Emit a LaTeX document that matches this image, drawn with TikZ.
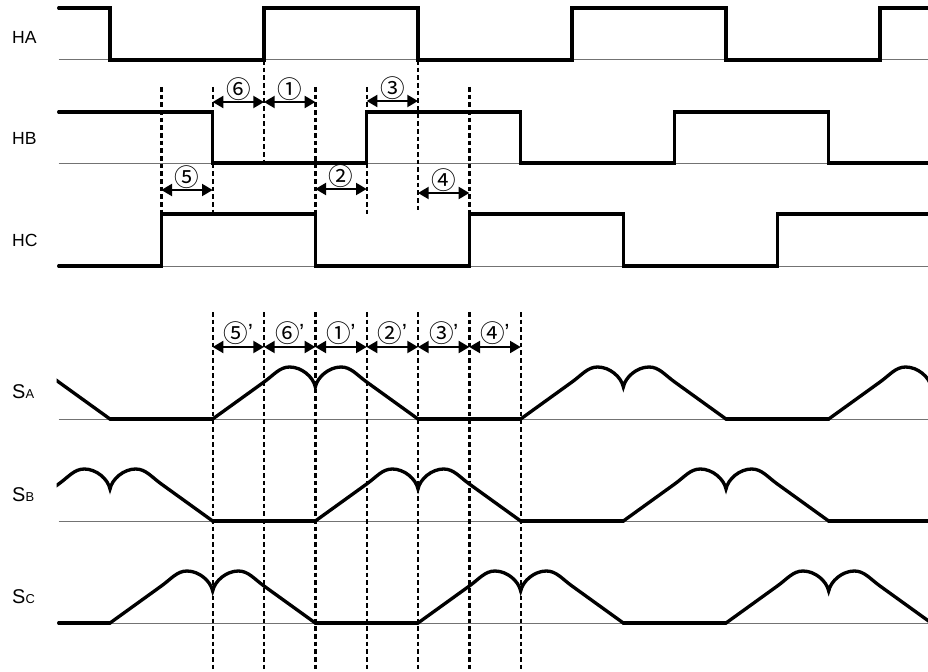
\documentclass[tikz,border=0pt]{standalone}
\usepackage{fontspec}
\setmainfont{Liberation Sans}
\newfontfamily\cjk{Noto Sans CJK JP}
\usetikzlibrary{arrows.meta}
\tikzset{
  wave/.style={line width=1mm, line cap=round, line join=miter},
  baseln/.style={line width=0.3mm, draw=black!55},
  guide/.style={line width=0.7mm, dash pattern=on 1.4mm off 0.9mm},
  span/.style={line width=0.6mm, {Triangle[length=3.2mm,width=3.6mm]}-{Triangle[length=3.2mm,width=3.6mm]}},
  lbl/.style={font=\fontsize{15}{15}\selectfont, anchor=west, inner sep=0pt},
  num/.style={font=\cjk\fontsize{21}{21}\selectfont, inner sep=0pt},
}
\newcommand\pulse[2]{%
  \draw[wave] (#1,#2) -- ({#1+1},{#2-37})
    .. controls ({#1+1.195},{#2-44.2}) and ({#1+1.305},{#2-52}) .. ({#1+1.5},{#2-52})
    .. controls ({#1+1.734},{#2-52}) and ({#1+1.961},{#2-42}) .. ({#1+2},{#2-32})
    .. controls ({#1+2.039},{#2-42}) and ({#1+2.266},{#2-52}) .. ({#1+2.5},{#2-52})
    .. controls ({#1+2.695},{#2-52}) and ({#1+2.805},{#2-44.2}) .. ({#1+3},{#2-37})
    -- ({#1+4},#2);}
\newcommand\subl[2]{{\fontsize{17}{17}\selectfont #1}{\fontsize{11}{11}\selectfont #2}}
\begin{document}
\begin{tikzpicture}[x=15.4mm, y=-0.3mm]
\useasboundingbox (-2.1429,0) rectangle (15.935,672);
% labels
\node[lbl] (lHA) at (-1.909,37) {HA};
\node[lbl] (lHB) at (-1.909,138) {HB};
\node[lbl] (lHC) at (-1.909,240) {HC};
\node[lbl] (lSA) at (-1.909,392) {\subl{S}{A}};
\node[lbl] (lSB) at (-1.909,495) {\subl{S}{B}};
\node[lbl] (lSC) at (-1.909,597) {\subl{S}{C}};
% baselines
\foreach \y/\n in {60/a,163/b,266/c,419/d,521/e,623/f}{
  \coordinate (bl\n) at (-1,\y);
  \coordinate (br\n) at (15.935,\y);
  \draw[baseln] (bl\n) -- (br\n);
}
% hall signals
\draw[wave] (-1,8) -- (0,8) -- (0,60) -- (3,60) -- (3,8) -- (6,8) -- (6,60) -- (9,60) -- (9,8) -- (12,8) -- (12,60) -- (15,60) -- (15,8) -- (15.935,8);
\draw[wave] (-1,112) -- (2,112) -- (2,163) -- (5,163) -- (5,112) -- (8,112) -- (8,163) -- (11,163) -- (11,112) -- (14,112) -- (14,163) -- (15.935,163);
\draw[wave] (-1,266) -- (1,266) -- (1,214) -- (4,214) -- (4,266) -- (7,266) -- (7,214) -- (10,214) -- (10,266) -- (13,266) -- (13,214) -- (15.935,214);
% back-emf signals
\begin{scope}
\clip (-1.04,300) rectangle (15.935,672);
\foreach \s in {-4,2,8,14}{\pulse{\s}{419}}
\foreach \a/\b in {0/2,6/8,12/14}{\draw[wave] (\a,419) -- (\b,419);}
\foreach \s in {-2,4,10}{\pulse{\s}{521}}
\foreach \a/\b in {2/4,8/10,14/15.935}{\draw[wave] (\a,521) -- (\b,521);}
\foreach \s in {0,6,12}{\pulse{\s}{623}}
\foreach \a/\b in {-1/0,4/6,10/12}{\draw[wave] (\a,623) -- (\b,623);}
\end{scope}
% top guide lines
\foreach \k/\t/\b in {1/87/214,2/87/214,3/60/160,4/87/214,5/87/215,6/60/212,7/87/214}{
  \coordinate (gt\k) at (\k,\t);
  \coordinate (gb\k) at (\k,\b);
  \draw[guide] (gt\k) -- (gb\k);
}
% bottom guide lines
\foreach \k in {2,...,8}{
  \coordinate (ht\k) at (\k,312);
  \coordinate (hb\k) at (\k,672);
  \draw[guide] (ht\k) -- (hb\k);
}
% top spans
\foreach \a/\b/\y/\t [count=\i] in {2/3/102/⑥,3/4/102/①,5/6/101/③,1/2/190/⑤,4/5/189/②,6/7/193/④}{
  \coordinate (sl\i) at (\a,\y);
  \coordinate (sr\i) at (\b,\y);
  \draw[span] (sl\i) -- (sr\i);
  \node[num] (sn\i) at ({(\a+\b)/2},{\y-13}) {\t};
}
% bottom spans
\foreach \a/\t [count=\i] in {2/⑤,3/⑥,4/①,5/②,6/③,7/④}{
  \coordinate (pl\i) at (\a,347);
  \coordinate (pr\i) at ({\a+1},347);
  \draw[span] (pl\i) -- (pr\i);
  \node[num, anchor=center] (pn\i) at ({\a+0.5},333) {\t\kern-0.02em{\rmfamily\fontsize{20}{20}\selectfont\raisebox{0.08em}{’}}};
}
\end{tikzpicture}
\end{document}
